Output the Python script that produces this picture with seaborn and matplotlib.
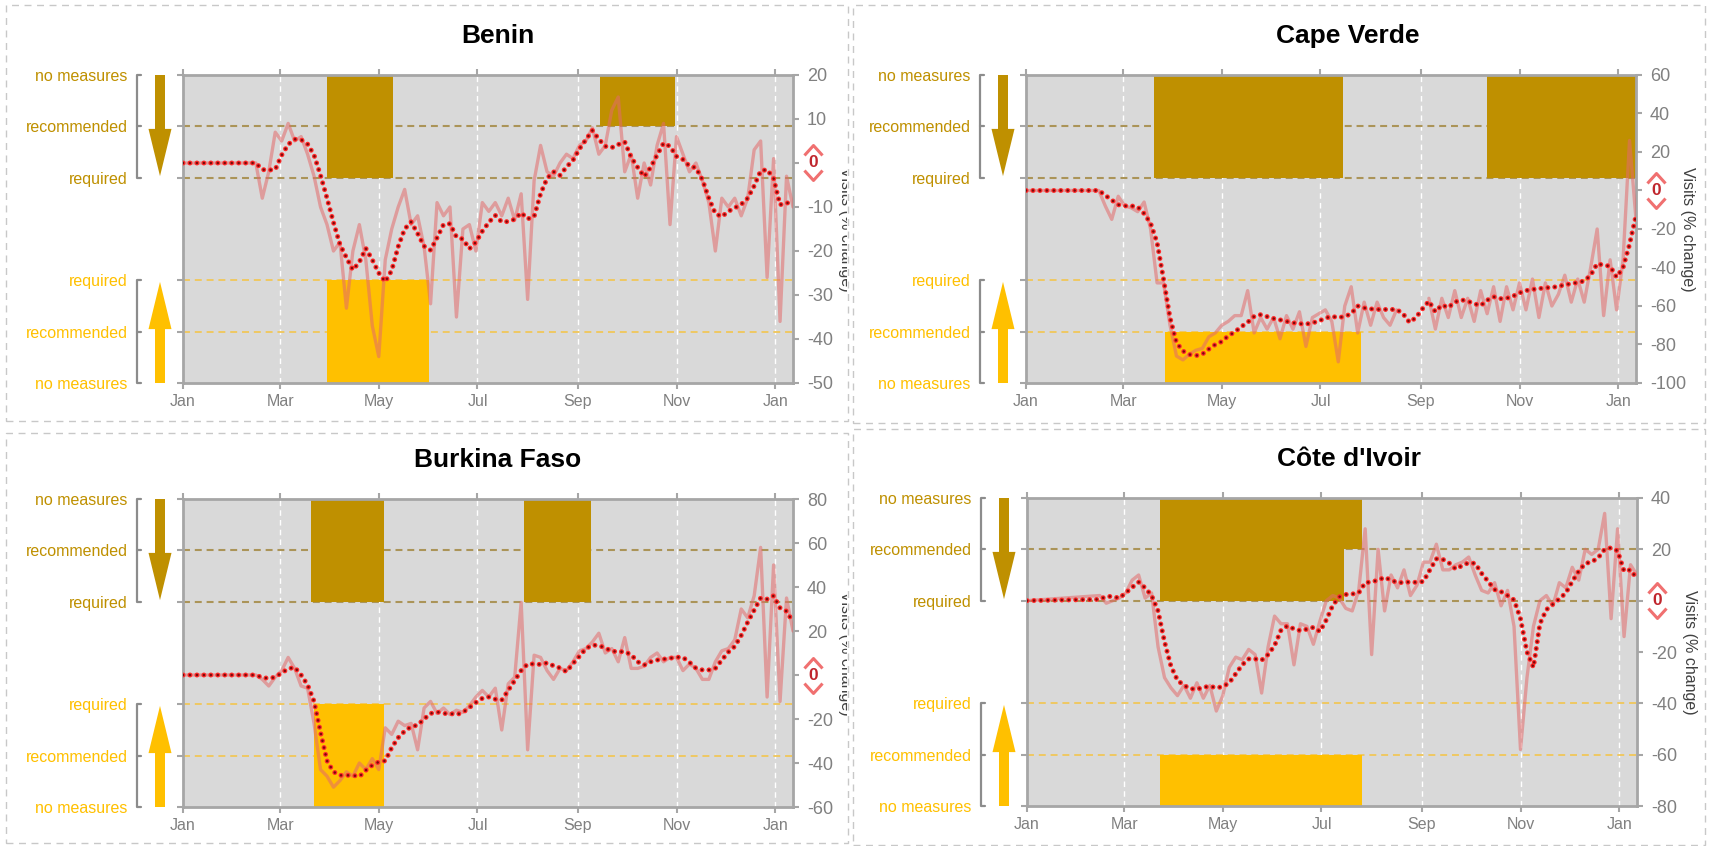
import matplotlib
matplotlib.use('Agg')
import matplotlib.pyplot as plt
import matplotlib.dates as mdates
import matplotlib.transforms as mtransforms
from matplotlib.patches import FancyArrow, Rectangle
from matplotlib.path import Path
import numpy as np
import pandas as pd
import seaborn as sns

# ---- data -----------------------------------------------------------------
X_START = '2020-01-01'
X_END = '2021-01-12'
DATA_START = '2020-02-15'   # mobility values below are every 4 days from here

LEVEL_NAMES = ['no measures', 'recommended', 'required',
               'required', 'recommended', 'no measures']
LEVEL_POS = [6, 5, 4, 2, 1, 0]
UPPER_LEVEL = {'required': 4, 'recommended': 5}
LOWER_LEVEL = {'required': 2, 'recommended': 1}

nan = np.nan

BENIN_RAW = [0, -8, -2, 7, 5, 9, 5, 6, 2, -3,
             -10, -14, -20, -18, -33, -20, -14, -22, -37, -44,
             -22, -15, -10, -6, -14, -12, -19, -32, -9, -12,
             -10, -35, -15, -14, -20, -9, -11, -9, -12, -8,
             -13, -7, -31, -4, 4, -2, -3, 0, 2, 1,
             4, 5, 8, 2, 4, 12, 15, -2, 2, -8,
             0, -5, 4, 9, -14, 6, 2, -2, 0, -4,
             -9, -20, -8, -10, -8, -12, -8, 3, 5, -26,
             1, -36, -3, -10]
BENIN_AVG = [0, -1.5, -1.6, -1.5, 1.8, 4.2, 5.4, 5.3, 4.3, 1.8,
             -2.8, -8, -13.5, -18.5, -21.5, -24.3, -22.5, -19.4, -22, -25,
             -27, -24.4, -19, -15, -13.4, -16, -18.9, -19.8, -17, -14,
             -13.8, -16.8, -17.3, -19.5, -18, -15.5, -13.5, -11.9, -13.4, -13.3,
             -12.8, -11.3, -12.7, -12.2, -7, -3.5, -2, -2.8, -0.9, 0.6,
             3.2, 5.3, 7.4, 5.4, 3.8, 3.5, 4.2, 4.8, 1.3, -1,
             -3.1, -1, 1.8, 4.5, 3.8, 1.5, 0.8, -0.7, -1.1, -3.8,
             -8, -11.5, -12.2, -11, -10.2, -9.4, -8, -5.2, -1.8, -1.5,
             -3.5, -9.5, -9, -9.5]
BENIN_UPPER = [('2020-03-30', '2020-05-10', 'required'),
               ('2020-09-15', '2020-10-31', 'recommended')]
BENIN_LOWER = [('2020-03-30', '2020-06-01', 'required')]

CAPE_VERDE_RAW = [0, -8, -15, -3, -8, -9, -11, -6, -20, -48,
                  -48, -70, -86, -88, -85, -83, -82, -76, -74, -70,
                  -68, -65, -65, -52, -74, -66, -72, -66, -77, -65,
                  -72, -63, -81, -66, -64, -62, -68, -89, -60, -50,
                  -74, -58, -70, -58, -66, -70, -62, nan, nan, nan,
                  nan, -56, -72, -56, -66, -52, -66, -56, -68, -52,
                  -64, -50, -68, -50, -62, -48, -62, -46, -66, -48,
                  -60, -54, -44, -58, -46, -58, -40, -20, -65, -36,
                  -62, -36, 26, -15]
CAPE_VERDE_AVG = [0, -2.5, -5, -7.4, -8, -8, -8.5, -12, -17, -27,
                  -46, -66, -79, -83.4, -85.2, -85.8, -85, -82.4, -80, -78.5,
                  -75.5, -73.5, -70.8, -68.5, -65.4, -64.5, -65.5, -66.5, -67.2, -68,
                  -68.7, -69.2, -69.4, -68.8, -67.8, -66.3, -65.4, -66, -65.5, -64,
                  -60, -61, -61.5, -61.8, -61.8, -61.8, -61.8, -64, -68.5, -66,
                  -61.5, -57.5, -63, -59.5, -60.8, -58, -56.8, -57.5, -58.8, -59.8,
                  -57, -55.2, -56.2, -56, -54.9, -53.2, -52, -51.4, -51, -50.5,
                  -50.4, -49.8, -49, -48.4, -47.8, -47, -44, -38, -38.8, -39.3,
                  -45, -40.1, -28, -13]
CAPE_VERDE_UPPER = [('2020-03-20', '2020-07-15', 'required'),
                    ('2020-10-12', '2021-01-12', 'required')]
CAPE_VERDE_LOWER = [('2020-03-27', '2020-07-26', 'recommended')]

BURKINA_RAW = [0, -2, -5, -1, 2, 8, 3, -5, -6, -22,
               -43, -46, -51, -48, -44, -46, -40, -43, -38, -43,
               -24, -27, -21, -23, -22, -34, -15, -12, -17.5, -15,
               -18, -16, -17, -14, -10, -7, -10, -6, -25, -4,
               -1, 33, -34, 9, 8, 2, -2, 3, 2, 6,
               11, 12, 15, 19, 10, 12, 6, 17, 3, 3,
               4, 8, 10, 6, 8, 8, 2, 5, 3, -2,
               -2, 6, 11, 12, 16, 30, 26, 36, 58, -10,
               50, -12, 35, 20]
BURKINA_AVG = [0, -1.2, -1.5, -1, 1, 2.8, 3.5, 0, -4.5, -12,
               -26, -39, -44, -45.6, -45.6, -45.6, -46.2, -43.3, -41, -39.5,
               -39, -33, -28.5, -25.5, -23.5, -22.8, -20, -17.5, -16.8, -17.5,
               -17.5, -18, -17, -14.8, -12.5, -10.6, -10, -11, -11.4, -7,
               -2.5, 2, 5, 5, 4.8, 5.5, 4.2, 3.2, 1.5, 5.2,
               8.5, 12, 13.6, 13.4, 12.3, 10.8, 10.6, 10.6, 9.2, 6,
               4.5, 6, 6.8, 7.2, 7.6, 8.1, 8, 5.8, 3.1, 2.3,
               2.3, 3, 6.8, 10.4, 13, 18, 24, 29.5, 35, 34.5,
               36, 30.5, 29, 24]
BURKINA_UPPER = [('2020-03-20', '2020-05-04', 'required'),
                 ('2020-07-30', '2020-09-09', 'required')]
BURKINA_LOWER = [('2020-03-22', '2020-05-04', 'required')]

COTE_RAW = [2, -1, 0, 1, 3, 8, 10, 1, 3, -18,
            -30, -34, -37, -33, -38, -32, -38, -33, -43, -37,
            -26, -22, -23, -19, -21, -36, -18, -6, -9, -9,
            -25, -9, -10, -17, -8, 0, 2, 1, -3, -4,
            4, 28, -21, 20, -4, 10, 5, 12, 2, 6,
            15, 15, 22, 12, 12, 14, 15, 17, 10, 4,
            3, 7, -2, 4, -10, -58, -30, -10, 0, 2,
            -2, 7, 5, 13, 8, 20, 18, 20, 34, -7,
            28, -14, 14, 10]
COTE_AVG = [0.5, 1.7, 1.6, 1, 3, 5.2, 7.2, 5, 2, -4,
            -16, -25.6, -31, -33, -34.3, -34.5, -33.8, -33.3, -34, -33.5,
            -32, -28.5, -25, -22.7, -22.7, -23.2, -21, -17.5, -11.5, -9.8,
            -11, -11.7, -11.1, -10.4, -12, -7.5, -1.8, 1.5, 2.4, 2.6,
            3, 7, 7.3, 8, 9.1, 8, 7, 7.1, 7.3, 7.1,
            7.5, 12, 16.3, 16.1, 14.6, 12.3, 13.7, 14.8, 14.5, 10.6,
            7.5, 4.3, 3.5, 2, 0.3, -7, -20, -26, -9, -3.5,
            -1.4, 0.7, 3, 7.5, 11.5, 14.5, 15.1, 16.7, 20, 20.6,
            19.4, 11.5, 12, 8.5]
COTE_UPPER = [('2020-03-23', '2020-07-15', 'required'),
              ('2020-07-15', '2020-07-26', 'recommended')]
COTE_LOWER = [('2020-03-23', '2020-07-26', 'recommended')]

PANELS = [
    ('Benin', BENIN_RAW, BENIN_AVG, BENIN_UPPER, BENIN_LOWER, (-50, 20, 10)),
    ('Cape Verde', CAPE_VERDE_RAW, CAPE_VERDE_AVG, CAPE_VERDE_UPPER, CAPE_VERDE_LOWER, (-100, 60, 20)),
    ('Burkina Faso', BURKINA_RAW, BURKINA_AVG, BURKINA_UPPER, BURKINA_LOWER, (-60, 80, 20)),
    ("Côte d'Ivoir", COTE_RAW, COTE_AVG, COTE_UPPER, COTE_LOWER, (-80, 40, 20)),
]

# ---- style ----------------------------------------------------------------
sns.set_style('ticks')
plt.rcParams['font.family'] = ['Liberation Sans', 'DejaVu Sans']
plt.rcParams['lines.scale_dashes'] = False

DARK_GOLD = '#bf9000'
GOLD = '#ffc000'
SPINE = '#a6a6a6'
TICK_TXT = '#808080'

W, H = 1709, 846
AX_W, AX_H = 610, 308
AX_POS = [(183, 75), (1026, 75), (183, 499), (1027, 498)]
TITLE_DX = [10, 17, 10, 17]
BOXES = [(6, 5, 848, 421), (853, 5, 1705, 423), (6, 433, 848, 843), (853, 429, 1705, 845)]

fig = plt.figure(figsize=(W / 100, H / 100), dpi=100)
fig.patch.set_facecolor('white')

for x0, y0, x1, y1 in BOXES:
    fig.add_artist(Rectangle((x0 / W, 1 - y1 / H), (x1 - x0) / W, (y1 - y0) / H,
                             transform=fig.transFigure, fill=False, ec='#c8c8c8',
                             lw=1, ls=(0, (5, 4))))

chevron_up = Path([(-1, -0.55), (0, 0.55), (1, -0.55)])
chevron_dn = Path([(-1, 0.55), (0, -0.55), (1, 0.55)])

for i, (name, raw, avg, upper, lower, (lo, hi, step)) in enumerate(PANELS):
    left, top = AX_POS[i]
    ax = fig.add_axes([left / W, 1 - (top + AX_H) / H, AX_W / W, AX_H / H])
    ax.set_facecolor('#d9d9d9')
    ax.set_axisbelow(True)
    x_lim = (pd.Timestamp(X_START), pd.Timestamp(X_END))
    ax.set_xlim(*x_lim)
    ax.set_ylim(0, 6)

    # measure bands
    for s, e, lvl in upper:
        ax.fill_between(pd.to_datetime([s, e]), UPPER_LEVEL[lvl], 6,
                        color=DARK_GOLD, lw=0, zorder=1)
    for s, e, lvl in lower:
        ax.fill_between(pd.to_datetime([s, e]), 0, LOWER_LEVEL[lvl],
                        color=GOLD, lw=0, zorder=1)
    for lvl in (4, 5):
        ax.axhline(lvl, color='#ab9458', lw=1.5, ls=(0, (5, 3.5)), zorder=0.9)
    for lvl in (1, 2):
        ax.axhline(lvl, color='#efc862', lw=1.4, ls=(0, (5, 3.5)), zorder=0.9)

    ax.xaxis.set_major_locator(mdates.MonthLocator(bymonth=[1, 3, 5, 7, 9, 11]))
    ax.xaxis.set_major_formatter(mdates.DateFormatter('%b'))
    ax.grid(axis='x', color='white', lw=1, ls=(0, (4, 3)))
    ax.grid(axis='y', visible=False)
    ax.tick_params(axis='x', bottom=True, top=True, labelbottom=True, labeltop=False,
                   direction='out', length=4, width=1.5, color=SPINE,
                   labelsize=11.5, labelcolor=TICK_TXT, pad=4)
    ax.set_yticks(LEVEL_POS)
    ax.set_yticklabels(LEVEL_NAMES)
    ax.tick_params(axis='y', left=True, right=False, direction='out', length=4,
                   width=1.5, color=SPINE, labelsize=11.5, pad=36)
    for lab, c in zip(ax.get_yticklabels(), [DARK_GOLD] * 3 + [GOLD] * 3):
        lab.set_color(c)
    for sp in ax.spines.values():
        sp.set_visible(True)
        sp.set_color(SPINE)
        sp.set_linewidth(2)

    # brackets and arrows left of the axis
    blend = mtransforms.blended_transform_factory(ax.transAxes, ax.transData)
    xb, stub = -46 / AX_W, 4 / AX_W
    for a, b in ((6, 4), (2, 0)):
        ax.plot([xb + stub, xb, xb, xb + stub], [a, a, b, b], transform=blend,
                color='#8c8c8c', lw=1.6, clip_on=False)
        mid = (a + b) / 2
        ax.plot([xb, xb + stub], [mid, mid], transform=blend,
                color='#8c8c8c', lw=1.6, clip_on=False)
    xa = -23 / AX_W
    ax.add_patch(FancyArrow(xa, 6, 0, -1.97, width=10 / AX_W, head_width=23 / AX_W,
                            head_length=0.92, length_includes_head=True,
                            color=DARK_GOLD, lw=0, transform=blend, clip_on=False))
    ax.add_patch(FancyArrow(xa, 0, 0, 1.97, width=10 / AX_W, head_width=23 / AX_W,
                            head_length=0.92, length_includes_head=True,
                            color=GOLD, lw=0, transform=blend, clip_on=False))

    # mobility lines
    ax2 = ax.twinx()
    dates = pd.to_datetime([X_START]).append(
        pd.date_range(DATA_START, periods=len(raw), freq='4D'))
    df = pd.DataFrame({'date': dates, 'raw': [0] + list(raw), 'avg': [0] + list(avg)})
    df['seg'] = df['raw'].isna().cumsum()
    sns.lineplot(data=df.dropna(subset=['raw']), x='date', y='raw', units='seg',
                 estimator=None, color='#e36a6a', alpha=0.55, lw=2.4, ax=ax2,
                 legend=False)
    sns.lineplot(data=df, x='date', y='avg', estimator=None, color='#ff2a2a',
                 lw=3.6, linestyle=(0, (0.01, 5)), dash_capstyle='round',
                 ax=ax2, legend=False)
    sns.lineplot(data=df, x='date', y='avg', estimator=None, color='#7a0a0a',
                 lw=1.9, linestyle=(0, (0.01, 5)), dash_capstyle='round',
                 ax=ax2, legend=False)
    ax2.set_xlim(*x_lim)
    ax2.set_ylim(lo, hi)
    ticks = list(range(lo, hi + 1, step))
    ax2.set_yticks(ticks)
    ax2.set_yticklabels(['' if t == 0 else str(t) for t in ticks])
    ax2.tick_params(axis='y', right=True, direction='out', length=4, width=1.5,
                    color=SPINE, labelsize=13, labelcolor=TICK_TXT, pad=6)
    ax2.set_ylabel('')
    ax2.set_xlabel('')
    for sp in ax2.spines.values():
        sp.set_visible(False)

    # red zero marker on the right axis
    blend2 = mtransforms.blended_transform_factory(ax2.transAxes, ax2.transData)
    xz = 1 + 20 / AX_W
    ax2.text(xz, 0, '0', transform=blend2, color='#c0262d', fontsize=12.5,
             fontweight='bold', ha='center', va='center', clip_on=False)
    for path, dy in ((chevron_up, 9), (chevron_dn, -9)):
        ax2.plot([xz], [0], marker=path, ms=13, mfc='none', mec='#f07070', mew=2.2,
                 ls='none', clip_on=False,
                 transform=mtransforms.offset_copy(blend2, fig=fig, y=dy, units='points'))

    # titles and right-hand label
    fig.text((left + AX_W / 2 + TITLE_DX[i]) / W, 1 - (top - 39) / H, name,
             fontsize=19, fontweight='bold', ha='center', va='center', color='black')
    lab = fig.text((left + AX_W + 52) / W, 1 - (top + AX_H / 2) / H,
                   'Visits (% change)', rotation=270, fontsize=11.5, color='#404040',
                   ha='center', va='center')
    if left < 500:
        lab.set_clip_box(mtransforms.TransformedBbox(
            mtransforms.Bbox([[0, 0], [847 / W, 1]]), fig.transFigure))
        lab.set_clip_on(True)

fig.savefig('out.png', dpi=100, facecolor='white')
